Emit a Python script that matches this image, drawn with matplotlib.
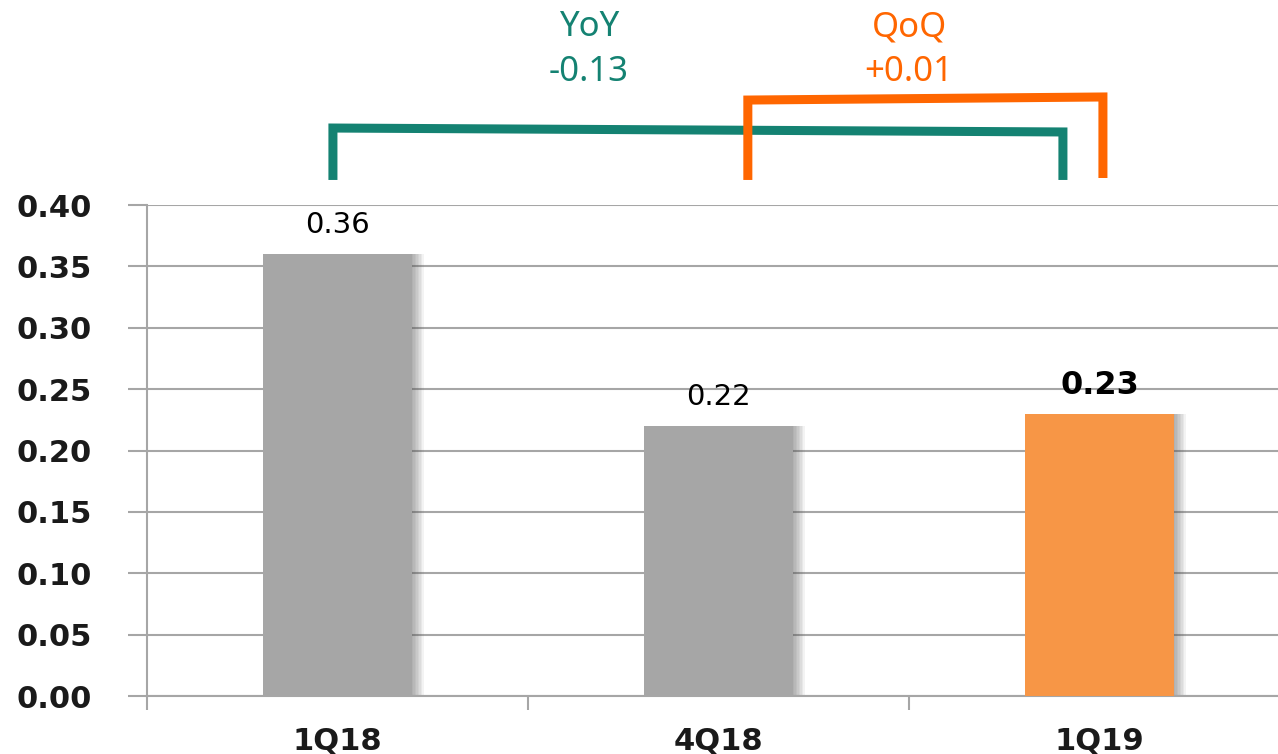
import matplotlib.pyplot as plt

# data
quarters = ['1Q18', '4Q18', '1Q19']
values = [0.36, 0.22, 0.23]
bar_colors = ['#A6A6A6', '#A6A6A6', '#F79646']
yticks = [0.00, 0.05, 0.10, 0.15, 0.20, 0.25, 0.30, 0.35, 0.40]
yoy_label, yoy_value = 'YoY', '-0.13'
qoq_label, qoq_value = 'QoQ', '+0.01'

TEAL = '#148272'
ORANGE = '#FF6600'
GRID = '#A6A6A6'
TXT = '#1A1A1A'

fig = plt.figure(figsize=(12.78, 7.54), dpi=100, facecolor='white')
ax = fig.add_axes((147/1278, 1 - 696/754, 1143/1278, 491/754))

x = list(range(len(quarters)))
w = 0.39

# soft shadow on the right of each bar
for k in range(8):
    off = 0.004 * (k + 1)
    ax.bar([xi + off for xi in x], values, width=w, color='#555555',
           alpha=0.07, lw=0, zorder=2)
ax.bar(x, values, width=w, color=bar_colors, lw=0, zorder=3)

ax.set_xlim(-0.5, 2.5)
ax.set_ylim(0, 0.40)
ax.set_yticks(yticks)
ax.set_yticklabels([f'{v:.2f}' for v in yticks])
ax.grid(axis='y', color=GRID, lw=1.5, zorder=0)
ax.set_axisbelow(True)

# category ticks between groups
ax.set_xticks([-0.5, 0.5, 1.5, 2.5], minor=False)
ax.set_xticklabels([])
ax.set_xticks(x, minor=True)
ax.set_xticklabels(quarters, minor=True)
ax.tick_params(axis='x', which='major', length=10, width=1.5, color=GRID, direction='out')
ax.tick_params(axis='x', which='minor', length=0, pad=22)
ax.tick_params(axis='y', length=14, width=1.5, color=GRID, pad=26)
for lab in ax.get_yticklabels() + ax.get_xticklabels(minor=True):
    lab.set_fontsize(22)
    lab.set_fontweight('bold')
    lab.set_color(TXT)

for s in ['top', 'right']:
    ax.spines[s].set_visible(False)
ax.spines['left'].set_color(GRID)
ax.spines['left'].set_linewidth(1.5)
ax.spines['bottom'].set_color(GRID)
ax.spines['bottom'].set_linewidth(1.5)

# value labels
for i, v in enumerate(values):
    last = i == len(values) - 1
    ax.annotate(f'{v:.2f}', (x[i], v), xytext=(0, 9 if last else 11),
                textcoords='offset points', ha='center', va='bottom',
                fontsize=23 if last else 21,
                fontweight='bold' if last else 'normal', color='black')

# YoY / QoQ brackets
kw = dict(clip_on=False, solid_capstyle='butt', solid_joinstyle='miter', zorder=5)
ax.plot([x[0] - 0.012, x[0] - 0.012, x[2] - 0.096, x[2] - 0.096],
        [0.4204, 0.4627, 0.4595, 0.4204], color=TEAL, lw=6.5, **kw)
ax.plot([x[1] + 0.077, x[1] + 0.077, x[2] + 0.009, x[2] + 0.009],
        [0.4204, 0.4855, 0.4880, 0.4220], color=ORANGE, lw=6.5, **kw)

tkw = dict(ha='center', va='center', fontsize=25, family='Noto Sans', clip_on=False)
ax.text(0.66, 0.545, yoy_label, color=TEAL, **tkw)
ax.text(0.66, 0.508, yoy_value, color=TEAL, **tkw)
ax.text(1.50, 0.545, qoq_label, color=ORANGE, **tkw)
ax.text(1.50, 0.508, qoq_value, color=ORANGE, **tkw)

fig.savefig('out.png', dpi=100, facecolor='white')
